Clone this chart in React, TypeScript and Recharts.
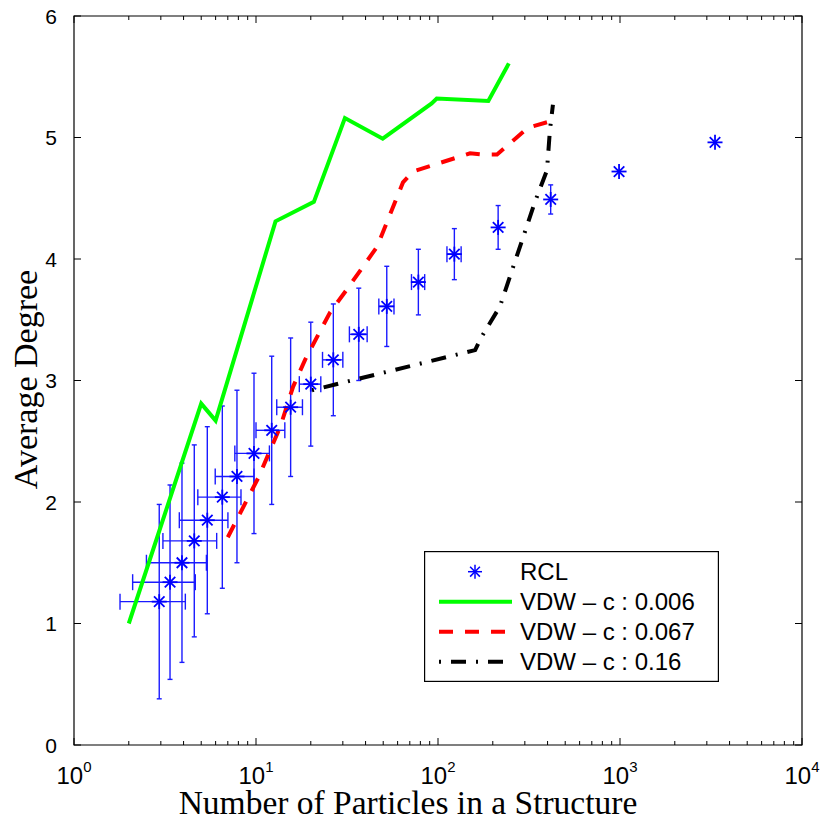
import React from 'react';
import { ComposedChart, Line, Scatter, XAxis, YAxis, ErrorBar, ReferenceArea, Legend, Label } from 'recharts';

// ---- data ----
const rclX = [2.94, 3.37, 3.92, 4.58, 5.40, 6.53, 7.86, 9.75, 12.2, 15.5, 20.0, 26.6, 36.7, 52.3, 78.0, 123, 214, 416, 988, 3327];
const rclY = [1.18, 1.34, 1.50, 1.68, 1.85, 2.04, 2.21, 2.40, 2.59, 2.78, 2.97, 3.17, 3.38, 3.61, 3.81, 4.04, 4.26, 4.49, 4.72, 4.96];
const rclXErr = [1.15, 1.27, 1.42, 1.50, 1.61, 1.74, 1.89, 2.1, 2.2, 2.5, 2.7, 3.4, 4.1, 5.0, 6.5, 11, null, null, null, null];
const rclYErr = [0.80, 0.80, 0.82, 0.79, 0.77, 0.75, 0.71, 0.66, 0.61, 0.57, 0.51, 0.46, 0.38, 0.33, 0.27, 0.21, 0.18, 0.12, null, null];

const greenX = [2, 5, 6, 12.8, 20.8, 30.8, 49.7, 92.3, 98.4, 189, 245];
const greenY = [1.0, 2.81, 2.67, 4.31, 4.47, 5.16, 4.99, 5.28, 5.32, 5.30, 5.61];

const redX = [7.0, 10.3, 13.6, 16.0, 18.6, 25.5, 31.6, 46.2, 64.2, 72.9, 150, 174.5, 211, 312, 428];
const redY = [1.71, 2.20, 2.62, 2.95, 3.17, 3.56, 3.75, 4.10, 4.63, 4.72, 4.87, 4.86, 4.86, 5.08, 5.14];

const blackX = [20.3, 160, 172, 219, 341, 397, 412, 428];
const blackY = [2.92, 3.25, 3.35, 3.61, 4.47, 4.73, 5.06, 5.27];

const xTicks = [1, 2, 3, 4, 5, 6, 7, 8, 9, 10, 20, 30, 40, 50, 60, 70, 80, 90, 100, 200, 300, 400, 500, 600, 700, 800, 900, 1000, 2000, 3000, 4000, 5000, 6000, 7000, 8000, 9000, 10000];
const yTicks = [0, 1, 2, 3, 4, 5, 6];

const seriesNames = ['RCL', 'VDW \u2013 c : 0.006', 'VDW \u2013 c : 0.067', 'VDW \u2013 c : 0.16'];

const rclData = rclX.map((x, i) => ({ x, y: rclY[i], xErr: rclXErr[i], yErr: rclYErr[i] }));
const greenData = greenX.map((x, i) => ({ x, y: greenY[i] }));
const redData = redX.map((x, i) => ({ x, y: redY[i] }));
const blackData = blackX.map((x, i) => ({ x, y: blackY[i] }));

// ---- layout ----
const W = 823;
const H = 820;
const M = { top: 16, right: 21, bottom: 0, left: 0 };
const Y_AXIS_W = 74;
const X_AXIS_H = 75;
const PLOT_LEFT = M.left + Y_AXIS_W;
const PLOT_RIGHT = W - M.right;
const PLOT_TOP = M.top;
const PLOT_BOTTOM = H - M.bottom - X_AXIS_H;

const SANS = '"Liberation Sans", Arial, Helvetica, sans-serif';
const SERIF = '"Liberation Serif", "Times New Roman", serif';

const BLUE = '#0000ff';
const GREEN = '#00ff00';
const RED = '#ff0000';
const BLACK = '#000000';
const DASH = '14 12';
const DASHDOT = '2 10 15 10';

function Star({ cx, cy, r = 7.5, sw = 1.8 }: { cx: number; cy: number; r?: number; sw?: number }) {
  const d = r * 0.7;
  return (
    <g stroke={BLUE} strokeWidth={sw}>
      <line x1={cx - r} y1={cy} x2={cx + r} y2={cy} />
      <line x1={cx} y1={cy - r} x2={cx} y2={cy + r} />
      <line x1={cx - d} y1={cy - d} x2={cx + d} y2={cy + d} />
      <line x1={cx - d} y1={cy + d} x2={cx + d} y2={cy - d} />
    </g>
  );
}

function XTick(props: any) {
  const { x, payload } = props;
  const v = payload.value;
  const lg = Math.log10(v);
  const exp = Math.round(lg);
  const major = Math.abs(lg - exp) < 1e-6;
  const len = major ? 7 : 4;
  return (
    <g>
      <line x1={x} x2={x} y1={PLOT_BOTTOM} y2={PLOT_BOTTOM - len} stroke="#000" strokeWidth={1} />
      <line x1={x} x2={x} y1={PLOT_TOP} y2={PLOT_TOP + len} stroke="#000" strokeWidth={1} />
      {major && (
        <text x={x} y={PLOT_BOTTOM + 39} textAnchor="middle" fontFamily={SANS} fontSize={24} fill="#000">
          <tspan>10</tspan>
          <tspan dy={-12} fontSize={15}>{exp}</tspan>
        </text>
      )}
    </g>
  );
}

function YTick(props: any) {
  const { y, payload } = props;
  return (
    <g>
      <line x1={PLOT_LEFT} x2={PLOT_LEFT + 7} y1={y} y2={y} stroke="#000" strokeWidth={1} />
      <line x1={PLOT_RIGHT} x2={PLOT_RIGHT - 7} y1={y} y2={y} stroke="#000" strokeWidth={1} />
      <text x={PLOT_LEFT - 17} y={y + 7.5} textAnchor="end" fontFamily={SANS} fontSize={21} fill="#000">
        {payload.value}
      </text>
    </g>
  );
}

const renderXTitle = (p: any) => {
  const vb = p.viewBox;
  return (
    <text x={vb.x + vb.width / 2 - 30} y={vb.y + 69} textAnchor="middle" fontFamily={SERIF} fontSize={33.5} fill="#000">
      Number of Particles in a Structure
    </text>
  );
};

const renderYTitle = (p: any) => {
  const vb = p.viewBox;
  const cx = 37;
  const cy = vb.y + vb.height / 2 - 1;
  return (
    <text x={cx} y={cy} transform={`rotate(-90, ${cx}, ${cy})`} textAnchor="middle" fontFamily={SERIF} fontSize={34} fill="#000">
      Average Degree
    </text>
  );
};

const LegendBox = () => {
  const rows = [20.7, 50.7, 80.7, 110.7];
  return (
    <svg width={295} height={131} style={{ display: 'block' }}>
      <rect x={0.6} y={0.6} width={293.8} height={129.8} fill="#fff" stroke="#000" strokeWidth={1.2} />
      <Star cx={51} cy={rows[0]} r={7} sw={1.5} />
      <line x1={15} x2={88} y1={rows[1]} y2={rows[1]} stroke={GREEN} strokeWidth={4} />
      <line x1={15} x2={88} y1={rows[2]} y2={rows[2]} stroke={RED} strokeWidth={4} strokeDasharray={DASH} />
      <line x1={15} x2={88} y1={rows[3]} y2={rows[3]} stroke={BLACK} strokeWidth={4} strokeDasharray={DASHDOT} />
      {seriesNames.map((n, i) => (
        <text key={n} x={96} y={rows[i] + 8.6} fontFamily={SANS} fontSize={24} fill="#000">
          {n}
        </text>
      ))}
    </svg>
  );
};

export default function App() {
  return (
    <div style={{ position: 'absolute', left: 0, top: 0, width: W, height: H }}>
      <ComposedChart width={W} height={H} margin={M}>
        <ReferenceArea x1={1} x2={10000} y1={0} y2={6} fill="none" stroke="#000" strokeWidth={1.2} ifOverflow="visible" />
        <XAxis
          dataKey="x"
          type="number"
          scale="log"
          domain={[1, 10000]}
          allowDataOverflow
          ticks={xTicks}
          interval={0}
          tick={<XTick />}
          tickLine={false}
          axisLine={false}
          height={X_AXIS_H}
        >
          <Label content={renderXTitle} />
        </XAxis>
        <YAxis
          dataKey="y"
          type="number"
          domain={[0, 6]}
          allowDataOverflow
          ticks={yTicks}
          interval={0}
          tick={<YTick />}
          tickLine={false}
          axisLine={false}
          width={Y_AXIS_W}
        >
          <Label content={renderYTitle} />
        </YAxis>
        <Legend
          layout="vertical"
          align="center"
          verticalAlign="middle"
          content={<LegendBox />}
          wrapperStyle={{ position: 'absolute', left: 424, top: 551, width: 295, height: 131, right: 'auto', bottom: 'auto' }}
        />
        <Scatter
          name={seriesNames[0]}
          data={rclData}
          isAnimationActive={false}
          shape={(p: any) => <Star cx={p.cx} cy={p.cy} />}
        >
          <ErrorBar dataKey="xErr" direction="x" width={8} stroke="#1a1aff" strokeWidth={1.4} isAnimationActive={false} />
          <ErrorBar dataKey="yErr" direction="y" width={2.5} stroke="#1a1aff" strokeWidth={1.4} isAnimationActive={false} />
        </Scatter>
        <Line name={seriesNames[1]} data={greenData} dataKey="y" type="linear" stroke={GREEN} strokeWidth={4} dot={false} activeDot={false} isAnimationActive={false} />
        <Line name={seriesNames[2]} data={redData} dataKey="y" type="linear" stroke={RED} strokeWidth={4} strokeDasharray={DASH} dot={false} activeDot={false} isAnimationActive={false} />
        <Line name={seriesNames[3]} data={blackData} dataKey="y" type="linear" stroke={BLACK} strokeWidth={4} strokeDasharray={DASHDOT} dot={false} activeDot={false} isAnimationActive={false} />
      </ComposedChart>
    </div>
  );
}
